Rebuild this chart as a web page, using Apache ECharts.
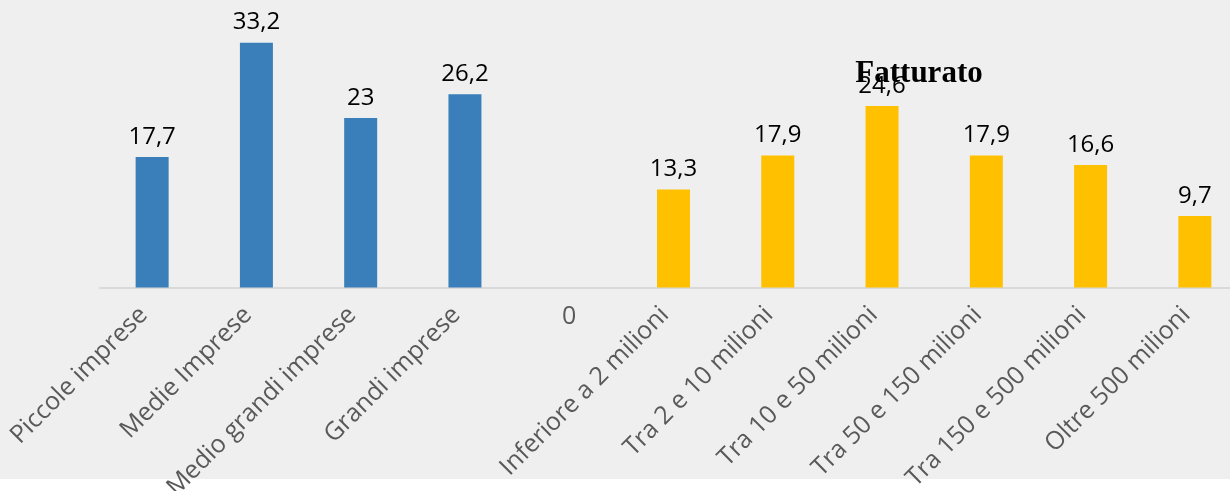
<!DOCTYPE html>
<html>
<head>
<meta charset="utf-8">
<script src="https://cdn.jsdelivr.net/npm/echarts@6/dist/echarts.min.js"></script>
<style>
  html, body { margin: 0; padding: 0; background: #ffffff; }
  #chart {
    width: 1230px; height: 491px;
    background: linear-gradient(#efefef 0, #efefef 479px, #ffffff 479px);
  }
</style>
</head>
<body>
<div id="chart"></div>
<script>
// Categories: company size classes, an empty separator, then turnover classes
const categories = [
  'Piccole imprese', 'Medie Imprese', 'Medio grandi imprese', 'Grandi imprese',
  '',
  'Inferiore a 2 milioni', 'Tra 2 e 10 milioni', 'Tra 10 e 50 milioni',
  'Tra 50 e 150 milioni', 'Tra 150 e 500 milioni', 'Oltre 500 milioni'
];
// Percentages by company size (blue)
const sizeValues = [17.7, 33.2, 23, 26.2, null, null, null, null, null, null, null];
// Separator value shown as "0"
const separatorValues = [null, null, null, null, 0, null, null, null, null, null, null];
// Percentages by turnover (yellow)
const turnoverValues = [null, null, null, null, null, 13.3, 17.9, 24.6, 17.9, 16.6, 9.7];
const titleText = 'Fatturato';

const fmt = p => String(p.value).replace('.', ',');
const toData = arr => arr.map(v => (v === null ? '-' : v));

const chart = echarts.init(document.getElementById('chart'), null, { renderer: 'canvas' });
chart.setOption({
  backgroundColor: 'transparent',
  animation: false,
  title: {
    text: titleText,
    left: 914,
    top: 53,
    textAlign: 'center',
    textStyle: {
      fontFamily: 'Liberation Serif',
      fontWeight: 'bold',
      fontSize: 31,
      color: '#000000'
    }
  },
  // the plot area runs a little past the right edge of the canvas
  grid: {
    left: 100, top: 22, width: 1147, height: 265.5,
    containLabel: false, outerBoundsMode: 'none'
  },
  xAxis: {
    type: 'category',
    data: categories,
    axisLine: { show: true, lineStyle: { color: '#d9d9d9', width: 2 } },
    axisTick: { show: false },
    axisLabel: {
      interval: 0,
      rotate: 45,
      margin: 15,
      padding: [0, 12, 0, 0],
      fontFamily: 'Open Sans',
      fontSize: 25,
      color: '#595959'
    }
  },
  yAxis: {
    type: 'value',
    min: 0,
    max: 36,
    show: false,
    splitLine: { show: false }
  },
  series: [
    {
      type: 'bar',
      data: toData(sizeValues),
      barWidth: 33,
      barGap: '-100%',
      itemStyle: { color: '#3a7fba' },
      label: {
        show: true, position: 'top', distance: 8, formatter: fmt,
        fontFamily: 'Open Sans', fontSize: 24, color: '#000000'
      }
    },
    {
      type: 'bar',
      data: toData(separatorValues),
      barWidth: 33,
      barGap: '-100%',
      itemStyle: { color: '#ffc000' },
      label: {
        show: true, position: 'bottom', distance: 17, formatter: fmt,
        fontFamily: 'Open Sans', fontSize: 25, color: '#595959'
      }
    },
    {
      type: 'bar',
      data: toData(turnoverValues),
      barWidth: 33,
      barGap: '-100%',
      itemStyle: { color: '#ffc000' },
      label: {
        show: true, position: 'top', distance: 8, formatter: fmt,
        fontFamily: 'Open Sans', fontSize: 24, color: '#000000'
      }
    }
  ]
});
</script>
</body>
</html>
